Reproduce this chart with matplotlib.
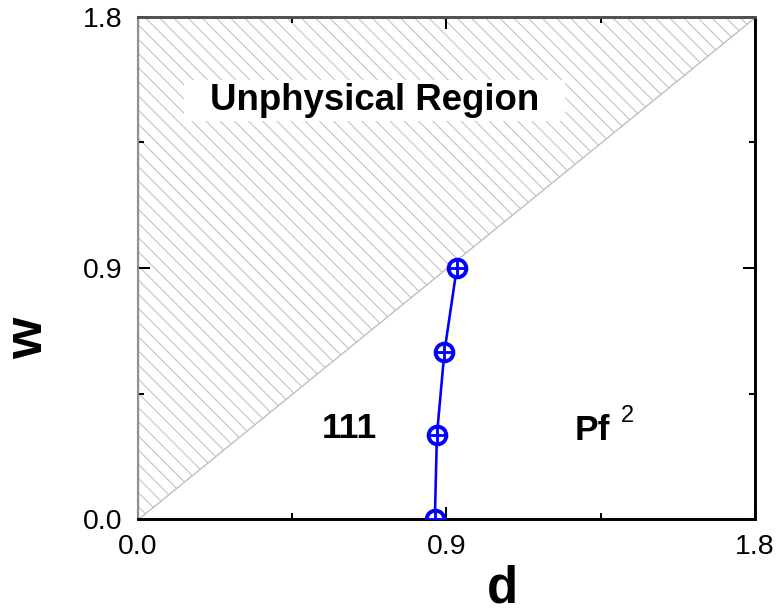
import matplotlib
matplotlib.use("Agg")
from matplotlib import pyplot as plt
from matplotlib.ticker import MultipleLocator

plt.rcParams['font.family'] = ['Liberation Sans', 'DejaVu Sans']
plt.rcParams['hatch.linewidth'] = 0.9

# phase boundary between 111 and Pf^2
d_vals = [0.866, 0.872, 0.894, 0.930]
w_vals = [0.0, 0.3, 0.6, 0.9]

# unphysical triangle (w > d)
tri_d = [0.0, 0.0, 1.8]
tri_w = [0.0, 1.8, 1.8]

ticks = [0.0, 0.9, 1.8]
tick_labels = ["0.0", "0.9", "1.8"]

dpi = 85
fig = plt.figure(figsize=(782 / dpi, 614 / dpi), dpi=dpi)
ax = fig.add_axes([138 / 782, 1 - 519 / 614, 617 / 782, 502 / 614])

ax.fill(tri_d, tri_w, facecolor='white', edgecolor='#c0c0c0',
        hatch='\\\\', linewidth=1.2, zorder=1)

ax.plot(d_vals, w_vals, color='blue', lw=2.2, zorder=3)
ax.plot(d_vals, w_vals, ls='none', marker='o', ms=15, mew=3.3,
        mfc='white', mec='blue', zorder=4)
ax.plot(d_vals, w_vals, ls='none', marker='+', ms=15, mew=2.4,
        mec='blue', zorder=5)

ax.text(0.69, 1.50, "Unphysical Region", fontsize=31, fontweight='bold',
        ha='center', va='center', zorder=6,
        bbox=dict(boxstyle='square,pad=0.7', facecolor='white',
                  edgecolor='none', mutation_aspect=0.12))
ax.text(0.618, 0.29, "111", fontsize=30, fontweight='bold',
        ha='center', va='baseline', zorder=6)
ax.text(1.275, 0.283, "Pf", fontsize=30, fontweight='bold',
        ha='left', va='baseline', zorder=6)
ax.text(1.41, 0.348, "2", fontsize=20, ha='left', va='baseline', zorder=6)

ax.set_xlim(0, 1.8)
ax.set_ylim(0, 1.8)
ax.set_xticks(ticks)
ax.set_xticklabels(tick_labels)
ax.set_yticks(ticks)
ax.set_yticklabels(tick_labels)
ax.xaxis.set_minor_locator(MultipleLocator(0.45))
ax.yaxis.set_minor_locator(MultipleLocator(0.45))
ax.tick_params(which='both', direction='in', top=True, right=True,
               labelsize=24, width=1.7)
ax.tick_params(which='major', length=10)
ax.tick_params(which='minor', length=5)
ax.tick_params(axis='x', pad=13)
ax.tick_params(axis='y', pad=13)

ax.set_xlabel("d", fontsize=43, fontweight='bold', va='bottom')
ax.xaxis.set_label_coords(0.59, -0.188)
ax.set_ylabel("w", fontsize=45, fontweight='bold', va='center')
ax.yaxis.set_label_coords(-0.178, 0.36)

ax.spines['bottom'].set_linewidth(2.5)
ax.spines['right'].set_linewidth(2.5)
ax.spines['left'].set_linewidth(1.8)
ax.spines['left'].set_color('#909090')
ax.spines['top'].set_linewidth(2.5)
ax.spines['top'].set_color('#505050')

fig.savefig("out.png", dpi=dpi)
